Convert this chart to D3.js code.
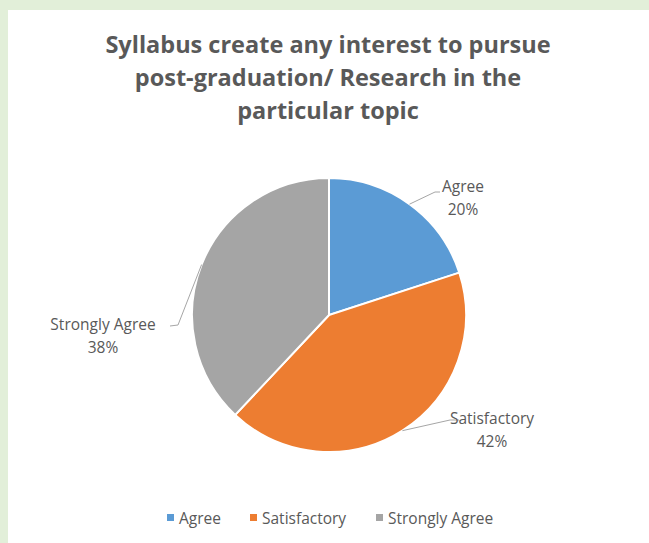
<!DOCTYPE html>
<html>
<head>
<meta charset="utf-8">
<script src="https://cdn.jsdelivr.net/npm/d3@7"></script>
<style>
  body { margin: 0; background: #e2efd9; }
  svg { display: block; }
  text { font-family: "Open Sans", "Noto Sans", sans-serif; fill: #595959; }
</style>
</head>
<body>
<div id="chart"></div>
<script>
var titleLines = ["Syllabus create any interest to pursue", "post-graduation/ Research in the", "particular topic"];
var categories = ["Agree", "Satisfactory", "Strongly Agree"];
var values = [20, 42, 38];
var colors = ["#5b9bd5", "#ed7d31", "#a5a5a5"];

var W = 649, H = 543;
var svg = d3.select("#chart").append("svg")
    .attr("width", W)
    .attr("height", H);

// white chart area inside the green page border
svg.append("rect")
    .attr("x", 8).attr("y", 10)
    .attr("width", W - 8).attr("height", H - 10)
    .attr("fill", "#ffffff");

// title
svg.append("g").selectAll("text")
    .data(titleLines)
    .enter().append("text")
    .attr("x", 328)
    .attr("y", function (d, i) { return 53 + i * 33; })
    .attr("text-anchor", "middle")
    .attr("font-size", 23.5)
    .attr("font-weight", "bold")
    .text(function (d) { return d; });

var cx = 329, cy = 315, r = 137;

var data = categories.map(function (c, i) { return { name: c, value: values[i], color: colors[i] }; });

var pie = d3.pie().sort(null).value(function (d) { return d.value; });
var arc = d3.arc().innerRadius(0).outerRadius(r);

var g = svg.append("g").attr("transform", "translate(" + cx + "," + cy + ")");

var arcs = pie(data);

g.selectAll("path")
    .data(arcs)
    .enter().append("path")
    .attr("d", arc)
    .attr("fill", function (d) { return d.data.color; })
    .attr("stroke", "#ffffff")
    .attr("stroke-width", 2);

// label layout: elbow point and text center relative to pie center
var labelPos = [
  { elbow: [106, -123], end: [111, -123], text: [134, -123] },
  { elbow: [121, 105], end: [130, 105], text: [163, 109] },
  { elbow: [-151, 10], end: [-159, 11], text: [-226, 15] }
];

var lab = g.selectAll("g.lab")
    .data(arcs)
    .enter().append("g")
    .attr("class", "lab");

lab.append("polyline")
    .attr("points", function (d, i) {
      var a = (d.startAngle + d.endAngle) / 2;
      var p0 = [r * Math.sin(a), -r * Math.cos(a)];
      var L = labelPos[i];
      return [p0, L.elbow, L.end].map(function (p) { return p.join(","); }).join(" ");
    })
    .attr("fill", "none")
    .attr("stroke", "#a6a6a6")
    .attr("stroke-width", 1);

lab.append("text")
    .attr("x", function (d, i) { return labelPos[i].text[0]; })
    .attr("y", function (d, i) { return labelPos[i].text[1]; })
    .attr("text-anchor", "middle")
    .attr("font-size", 15.5)
    .text(function (d) { return d.data.name; });

lab.append("text")
    .attr("x", function (d, i) { return labelPos[i].text[0]; })
    .attr("y", function (d, i) { return labelPos[i].text[1] + 23; })
    .attr("text-anchor", "middle")
    .attr("font-size", 15.5)
    .text(function (d) { return d.data.value + "%"; });

// legend
var legendX = [167, 250, 376];
var leg = svg.append("g").selectAll("g")
    .data(data)
    .enter().append("g")
    .attr("transform", function (d, i) { return "translate(" + legendX[i] + ",514)"; });

leg.append("rect")
    .attr("width", 7).attr("height", 7)
    .attr("fill", function (d) { return d.color; });

leg.append("text")
    .attr("x", 12)
    .attr("y", 9.5)
    .attr("font-size", 15.5)
    .text(function (d) { return d.name; });
</script>
</body>
</html>
